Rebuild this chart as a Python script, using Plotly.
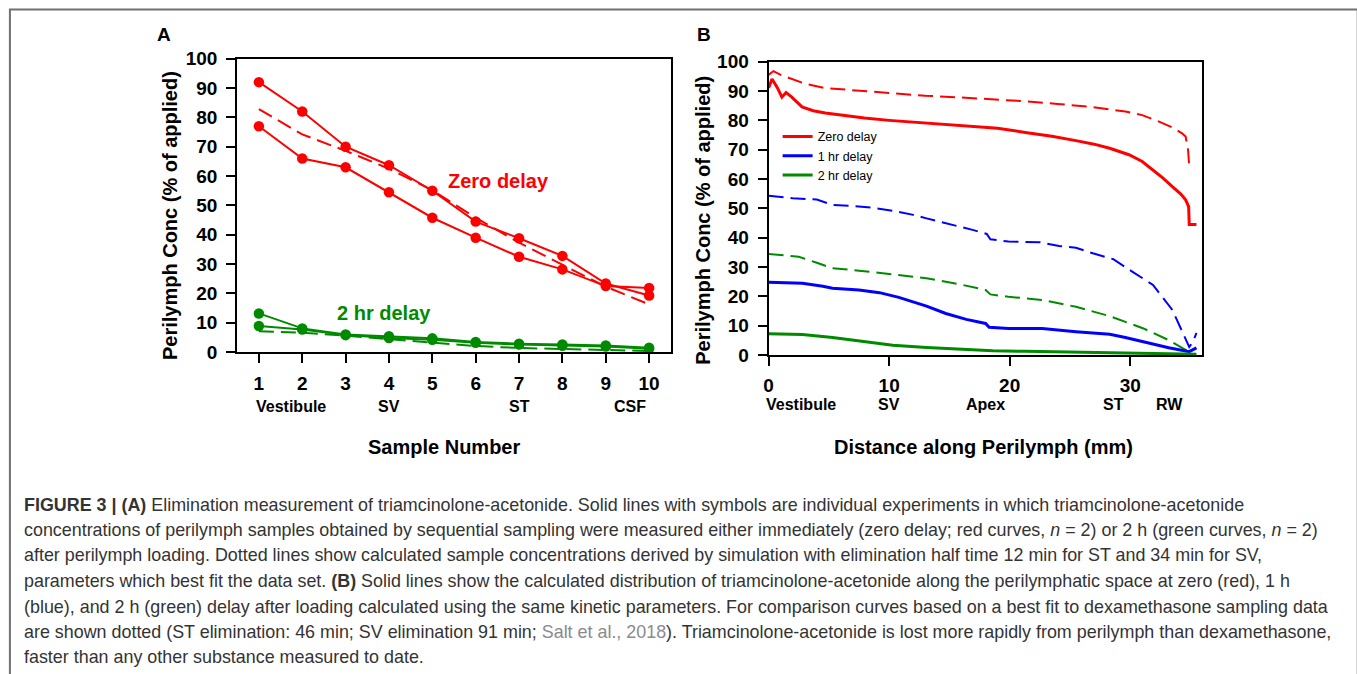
import plotly.graph_objects as go

# Figure canvas (CSS px). Positions below are given in the target picture's
# pixel coordinates and mapped onto the canvas through px / py, which account
# for the page offset and the way the page is photographed.
W, H = 1362, 690
OX, SX = 4.1, 0.995
OY, SY = 10.4, 0.968

# ---------------- Panel A data ----------------
samples = [1, 2, 3, 4, 5, 6, 7, 8, 9, 10]
zero_exp1 = [92.0, 82.0, 70.0, 63.7, 55.0, 44.5, 38.8, 32.8, 23.4, 19.3]
zero_exp2 = [77.0, 66.0, 63.0, 54.5, 45.8, 39.0, 32.5, 28.2, 22.5, 21.9]
zero_model = [82.8, 74.2, 68.6, 62.5, 55.2, 45.8, 37.3, 29.7, 22.3, 16.3]
two_exp1 = [13.2, 8.1, 6.0, 5.4, 4.7, 3.5, 2.9, 2.6, 2.3, 1.5]
two_exp2 = [8.9, 7.7, 5.8, 4.8, 4.2, 3.2, 2.6, 2.2, 1.9, 1.2]
two_model = [7.1, 6.6, 5.6, 4.4, 3.2, 2.1, 1.4, 1.0, 0.7, 0.4]
a_xticks = [1, 2, 3, 4, 5, 6, 7, 8, 9, 10]
a_region_pos = [1.73, 4.0, 7.0, 9.57]
a_region_lbl = ["Vestibule", "SV", "ST", "CSF"]

# ---------------- Panel B data ----------------
red_sol_x = [0, 0.28, 0.7, 1.1, 1.45, 1.9, 2.77, 3.7, 4.7, 6.0, 7.95, 10.0, 13.0, 16.0, 19.0, 21.3, 23.5, 25.5, 27.0, 28.3, 29.9, 31.0, 31.9, 32.7, 33.5, 34.2, 34.6, 34.85, 34.9, 35.5]
red_sol_y = [91.0, 94.1, 91.3, 87.9, 89.5, 88.0, 84.6, 83.3, 82.5, 81.8, 80.8, 80.0, 79.1, 78.2, 77.3, 75.9, 74.6, 73.1, 71.9, 70.5, 68.3, 66.0, 63.1, 60.4, 57.4, 54.9, 52.9, 50.6, 44.5, 44.5]

red_dash_x = [0, 0.4, 1.0, 2.0, 3.0, 4.7, 6.0, 8.0, 10.0, 13.0, 16.0, 19.0, 21.3, 24.0, 26.9, 29.6, 31.0, 32.4, 33.5, 34.3, 34.6, 34.8, 34.9]
red_dash_y = [95.5, 96.8, 95.5, 94.1, 92.5, 91.0, 90.6, 89.9, 89.3, 88.4, 87.8, 87.1, 86.5, 85.6, 84.5, 83.0, 81.8, 79.6, 77.6, 75.6, 74.5, 70.0, 64.3]

blue_sol_x = [0, 2.8, 4.5, 5.3, 7.5, 9.2, 10.8, 13.1, 14.7, 16.4, 18.0, 18.3, 19.9, 22.7, 25.5, 28.3, 29.6, 31.1, 33.2, 34.9, 35.5]
blue_sol_y = [24.8, 24.5, 23.5, 22.8, 22.2, 21.3, 19.7, 16.7, 14.2, 12.2, 10.8, 9.5, 9.1, 9.1, 8.0, 7.1, 6.0, 4.5, 2.5, 1.2, 2.5]

blue_dash_x = [0, 2.0, 4.0, 5.3, 7.0, 8.5, 10.3, 12.0, 13.1, 14.5, 15.8, 17.0, 18.1, 18.4, 19.9, 21.3, 22.5, 24.1, 25.5, 26.9, 28.6, 30.2, 31.9, 33.5, 34.3, 34.9, 35.2, 35.5]
blue_dash_y = [54.3, 53.5, 53.0, 51.2, 50.8, 50.3, 49.2, 47.8, 46.6, 45.2, 43.8, 42.6, 41.3, 39.5, 38.7, 38.7, 38.5, 37.2, 36.6, 34.7, 32.7, 28.4, 23.9, 15.4, 8.0, 2.8, 4.5, 7.6]

green_sol_x = [0, 2.8, 5.3, 7.5, 10.3, 13.1, 15.8, 18.6, 21.3, 26.9, 32.4, 35.5]
green_sol_y = [7.3, 7.0, 6.0, 4.9, 3.4, 2.6, 2.0, 1.5, 1.3, 0.9, 0.5, 0.3]

green_dash_x = [0, 2.5, 4.0, 5.3, 7.5, 10.3, 13.1, 15.8, 18.0, 18.4, 19.9, 22.7, 25.5, 28.3, 31.1, 33.2, 34.9]
green_dash_y = [34.5, 33.5, 31.5, 29.6, 28.8, 27.6, 26.2, 24.2, 22.2, 20.7, 19.9, 18.8, 16.5, 13.3, 9.1, 5.1, 1.1]

b_xticks = [0, 10, 20, 30]
b_region_pos = [2.71, 10.0, 18.0, 28.6, 33.3]
b_region_lbl = ["Vestibule", "SV", "Apex", "ST", "RW"]
y_ticks = [0, 10, 20, 30, 40, 50, 60, 70, 80, 90, 100]

caption_lines = [
    "<b>FIGURE 3 | (A)</b> Elimination measurement of triamcinolone-acetonide. Solid lines with symbols are individual experiments in which triamcinolone-acetonide",
    "concentrations of perilymph samples obtained by sequential sampling were measured either immediately (zero delay; red curves, <i>n</i> = 2) or 2 h (green curves, <i>n</i> = 2)",
    "after perilymph loading. Dotted lines show calculated sample concentrations derived by simulation with elimination half time 12 min for ST and 34 min for SV,",
    "parameters which best fit the data set. <b>(B)</b> Solid lines show the calculated distribution of triamcinolone-acetonide along the perilymphatic space at zero (red), 1 h",
    "(blue), and 2 h (green) delay after loading calculated using the same kinetic parameters. For comparison curves based on a best fit to dexamethasone sampling data",
    "are shown dotted (ST elimination: 46 min; SV elimination 91 min; <span style='color:#8a8a8a'>Salt et al., 2018</span>). Triamcinolone-acetonide is lost more rapidly from perilymph than dexamethasone,",
    "faster than any other substance measured to date.",
]

RED, GREEN, BLUE = "#ff0000", "#008a00", "#0000ff"
FONT = "Liberation Sans, Arial, sans-serif"
DASH = "15px,7px"


def px(x):
    """target-picture x pixel -> paper fraction"""
    return ((x - OX) / SX) / W


def py(y):
    """target-picture y pixel -> paper fraction"""
    return 1 - ((y - OY) / SY) / H


fig = go.Figure()

# Panel A traces
for ys in (zero_exp1, zero_exp2):
    fig.add_trace(go.Scatter(x=samples, y=ys, mode="lines+markers", line=dict(color=RED, width=2),
                             marker=dict(size=10.5, color=RED), showlegend=False, xaxis="x", yaxis="y"))
fig.add_trace(go.Scatter(x=samples, y=zero_model, mode="lines", line=dict(color=RED, width=2, dash=DASH),
                         showlegend=False, xaxis="x", yaxis="y"))
for ys in (two_exp1, two_exp2):
    fig.add_trace(go.Scatter(x=samples, y=ys, mode="lines+markers", line=dict(color=GREEN, width=2),
                             marker=dict(size=10.5, color=GREEN), showlegend=False, xaxis="x", yaxis="y"))
fig.add_trace(go.Scatter(x=samples, y=two_model, mode="lines", line=dict(color=GREEN, width=2, dash=DASH),
                         showlegend=False, xaxis="x", yaxis="y"))

# Panel B traces
fig.add_trace(go.Scatter(x=red_dash_x, y=red_dash_y, mode="lines", line=dict(color=RED, width=2, dash=DASH),
                         showlegend=False, xaxis="x2", yaxis="y2"))
fig.add_trace(go.Scatter(x=blue_dash_x, y=blue_dash_y, mode="lines", line=dict(color=BLUE, width=2, dash=DASH),
                         showlegend=False, xaxis="x2", yaxis="y2"))
fig.add_trace(go.Scatter(x=green_dash_x, y=green_dash_y, mode="lines", line=dict(color=GREEN, width=2, dash=DASH),
                         showlegend=False, xaxis="x2", yaxis="y2"))
fig.add_trace(go.Scatter(x=red_sol_x, y=red_sol_y, mode="lines", line=dict(color=RED, width=3),
                         name="Zero delay", xaxis="x2", yaxis="y2"))
fig.add_trace(go.Scatter(x=blue_sol_x, y=blue_sol_y, mode="lines", line=dict(color=BLUE, width=3),
                         name="1 hr delay", xaxis="x2", yaxis="y2"))
fig.add_trace(go.Scatter(x=green_sol_x, y=green_sol_y, mode="lines", line=dict(color=GREEN, width=3),
                         name="2 hr delay", xaxis="x2", yaxis="y2"))

tickfont = dict(family=FONT, size=19, color="black", weight="bold")
axis_common = dict(showline=True, linecolor="black", linewidth=2, mirror=True, ticks="outside",
                   ticklen=9, tickwidth=2, tickcolor="black", showgrid=False, zeroline=False,
                   tickfont=tickfont, fixedrange=True)

fig.update_layout(
    width=W, height=H, autosize=False,
    margin=dict(l=0, r=0, t=0, b=0),
    paper_bgcolor="white", plot_bgcolor="white",
    xaxis=dict(domain=[px(236), px(669)], range=[0.5, 10.5], tickvals=a_xticks, anchor="y",
               ticklabelstandoff=4, **axis_common),
    yaxis=dict(domain=[py(352), py(59)], range=[0, 100], tickvals=y_ticks, anchor="x",
               ticklabelstandoff=5, **axis_common),
    xaxis2=dict(domain=[px(766.7), px(1200)], range=[0, 36], tickvals=b_xticks, anchor="y2",
                ticklabelstandoff=3, **axis_common),
    yaxis2=dict(domain=[py(355), py(62)], range=[0, 100], tickvals=y_ticks, anchor="x2",
                ticklabelstandoff=5, **axis_common),
    legend=dict(x=px(775.7), y=py(122), xanchor="left", yanchor="top", bgcolor="rgba(0,0,0,0)",
                font=dict(family=FONT, size=12.5, color="black"), tracegroupgap=0),
    showlegend=True,
)

ann = []


def add_text(x, y, text, size, color="black", bold=True, xanchor="center", angle=0, xref="paper", family=FONT):
    ann.append(dict(x=x, y=y, xref=xref, yref="paper", text=text, showarrow=False,
                    font=dict(family=family, size=size, color=color, weight="bold" if bold else "normal"),
                    xanchor=xanchor, yanchor="middle", textangle=angle))


add_text(px(163), py(35), "A", 19)
add_text(px(702), py(35), "B", 19)
add_text(px(169), py(216), "Perilymph Conc (% of applied)", 20, angle=-90)
add_text(px(701), py(220), "Perilymph Conc (% of applied)", 20, angle=-90)
add_text(px(443), py(447), "Sample Number", 20)
add_text(px(981), py(447), "Distance along Perilymph (mm)", 20)
add_text(px(497), py(181), "Zero delay", 20, color=RED)
add_text(px(383), py(313), "2 hr delay", 20, color=GREEN)
for pos, lbl in zip(a_region_pos, a_region_lbl):
    ann.append(dict(x=pos, y=py(406), xref="x", yref="paper", text=lbl, showarrow=False,
                    font=dict(family=FONT, size=16, color="black", weight="bold"), xanchor="center", yanchor="middle"))
for pos, lbl in zip(b_region_pos, b_region_lbl):
    ann.append(dict(x=pos, y=py(404), xref="x2", yref="paper", text=lbl, showarrow=False,
                    font=dict(family=FONT, size=16, color="black", weight="bold"), xanchor="center", yanchor="middle"))

cap_y = [505, 530, 555, 580.5, 606, 631, 656]
for yy, line in zip(cap_y, caption_lines):
    ann.append(dict(x=px(21), y=py(yy), xref="paper", yref="paper", text=line, showarrow=False,
                    font=dict(family=FONT, size=17.9, color="#333333"), xanchor="left", yanchor="middle"))

fig.update_layout(annotations=ann)

# Outer figure frame (left, top, right edges); kept inside the figure area
bx0, bx1, by_top, by_bot = px(9), px(1355), py(10), py(676)
fig.add_shape(type="path", xref="paper", yref="paper",
              path=f"M {bx0},{by_bot} L {bx0},{by_top} L {bx1},{by_top} L {bx1},{by_bot}",
              line=dict(color="#707070", width=2), fillcolor="rgba(0,0,0,0)", layer="below")

fig.write_html("out.html")
